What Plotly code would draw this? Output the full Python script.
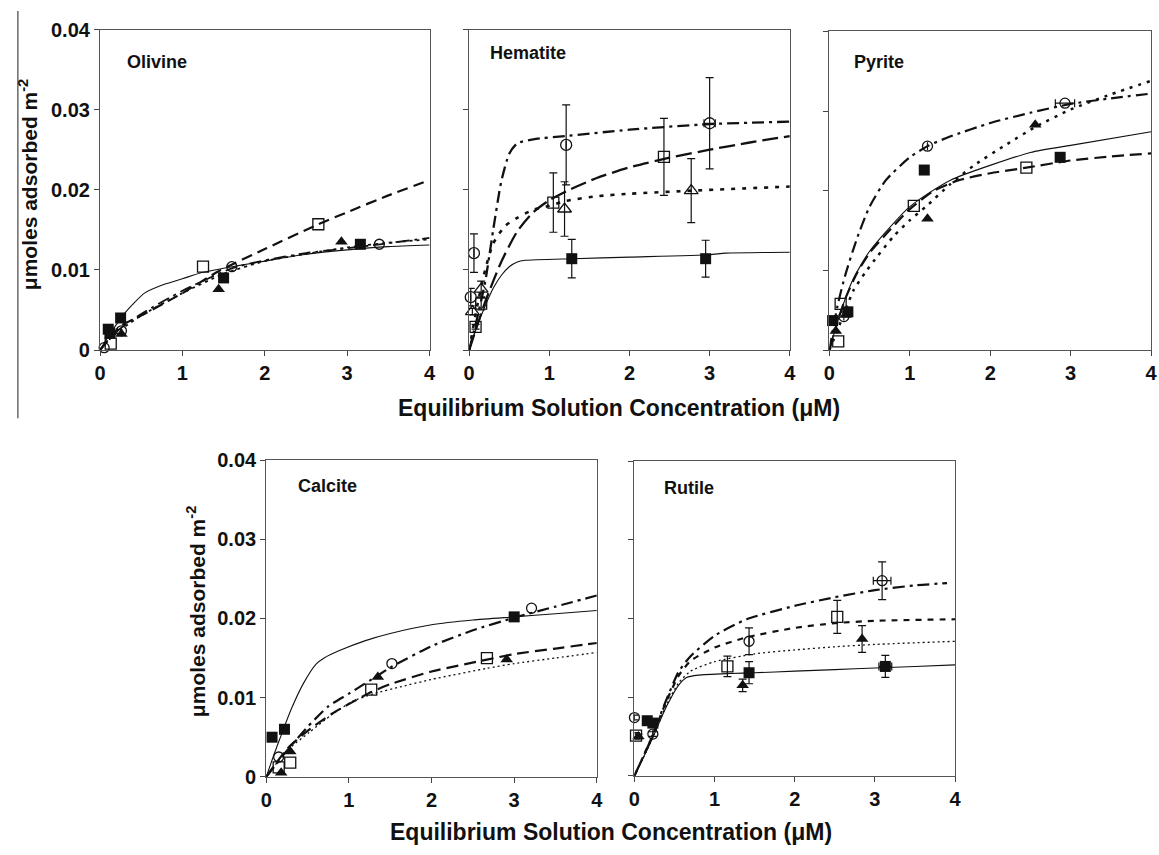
import plotly.graph_objects as go

W, H = 1159, 855
FONT = "Liberation Sans, Arial, sans-serif"

# ---------------- DATA ----------------
X_TICKS = [0, 1, 2, 3, 4]
Y_TICKS = [0, 0.01, 0.02, 0.03, 0.04]
Y_TICK_TEXT = ["0", "0.01", "0.02", "0.03", "0.04"]
PANEL_NAMES = ["Olivine", "Hematite", "Pyrite", "Calcite", "Rutile"]
X_TITLE = "Equilibrium Solution Concentration (μM)"
Y_TITLE = "μmoles adsorbed m<sup>-2</sup>"

# Olivine
olv_fsq_x = [0.10, 0.12, 0.25, 1.50, 3.16]
olv_fsq_y = [0.0026, 0.0021, 0.0040, 0.0090, 0.0132]
olv_osq_x = [0.13, 1.25, 2.65]
olv_osq_y = [0.0008, 0.0104, 0.0157]
olv_ftri_x = [0.26, 1.44, 2.93]
olv_ftri_y = [0.0020, 0.0076, 0.0135]
olv_ocir_x = [0.05, 0.26, 1.60, 3.39]
olv_ocir_y = [0.0003, 0.0024, 0.0104, 0.0132]
olv_solid_x = [0, 0.1, 0.2, 0.3, 0.54, 0.78, 1.0, 1.25, 1.66, 2.0, 2.46, 3.0, 3.5, 4.0]
olv_solid_y = [0, 0.0017, 0.0032, 0.0046, 0.0071, 0.0082, 0.0089, 0.0097, 0.0105, 0.0111, 0.0119, 0.0125, 0.0129, 0.0131]
olv_dash_x = [0, 0.1, 0.25, 0.5, 1.0, 1.45, 2.0, 2.65, 3.0, 3.5, 4.0]
olv_dash_y = [0, 0.0012, 0.0030, 0.0043, 0.0071, 0.0099, 0.0126, 0.0157, 0.0172, 0.0193, 0.0212]
olv_dashdot_x = [0, 0.1, 0.26, 0.5, 1.0, 1.6, 2.0, 2.5, 3.0, 3.4, 4.0]
olv_dashdot_y = [0, 0.0013, 0.0028, 0.0045, 0.0074, 0.0102, 0.0112, 0.0121, 0.0127, 0.0132, 0.0140]
olv_dot_x = [0, 0.1, 0.26, 0.5, 1.0, 1.5, 2.0, 2.5, 3.0, 3.5, 4.0]
olv_dot_y = [0, 0.0012, 0.0026, 0.0043, 0.0071, 0.0095, 0.0111, 0.0120, 0.0128, 0.0134, 0.0138]

# Hematite
hem_fsq_x = [1.28, 2.95]
hem_fsq_y = [0.0114, 0.0114]
hem_fsq_err = [0.0024, 0.0023]
hem_osq_x = [0.08, 0.15, 1.05, 2.43]
hem_osq_y = [0.0029, 0.0058, 0.0184, 0.0241]
hem_osq_err = [0.0003, 0.0008, 0.0037, 0.0048]
hem_otri_x = [0.04, 0.15, 1.19, 2.77]
hem_otri_y = [0.0048, 0.0076, 0.0176, 0.0199]
hem_otri_err = [0.0004, 0.0010, 0.0034, 0.0040]
hem_ocir_x = [0.02, 0.06, 1.21, 3.00]
hem_ocir_y = [0.0066, 0.0121, 0.0256, 0.0283]
hem_ocir_err = [0.0011, 0.0024, 0.0050, 0.0057]
hem_ocir_xerr = [0, 0, 0, 0.07]
hem_solid_x = [0, 0.1, 0.2, 0.3, 0.4, 0.5, 0.6, 0.7, 1.3, 2.0, 3.0, 3.2, 4.0]
hem_solid_y = [0, 0.0030, 0.0055, 0.0077, 0.0093, 0.0104, 0.0110, 0.0112, 0.0114, 0.0116, 0.0119, 0.0121, 0.0122]
hem_dash_x = [0, 0.2, 0.4, 0.6, 0.8, 1.0, 1.25, 1.6, 2.0, 2.5, 3.0, 3.5, 4.0]
hem_dash_y = [0, 0.0060, 0.0110, 0.0148, 0.0172, 0.0187, 0.0200, 0.0215, 0.0228, 0.0240, 0.0250, 0.0259, 0.0267]
hem_dashdot_x = [0, 0.1, 0.2, 0.3, 0.4, 0.5, 0.6, 0.8, 1.2, 2.0, 3.0, 4.0]
hem_dashdot_y = [0, 0.0040, 0.0085, 0.0150, 0.0210, 0.0245, 0.0258, 0.0263, 0.0267, 0.0275, 0.0282, 0.0285]
hem_dot_x = [0, 0.1, 0.2, 0.3, 0.45, 0.6, 0.8, 1.0, 1.2, 1.6, 2.0, 2.8, 4.0]
hem_dot_y = [0, 0.0055, 0.0100, 0.0133, 0.0155, 0.0165, 0.0175, 0.0180, 0.0186, 0.0192, 0.0195, 0.0199, 0.0204]

# Pyrite
pyr_fsq_x = [0.04, 0.23, 1.18, 2.87]
pyr_fsq_y = [0.0037, 0.0048, 0.0226, 0.0242]
pyr_osq_x = [0.11, 0.14, 1.05, 2.45]
pyr_osq_y = [0.0011, 0.0058, 0.0181, 0.0229]
pyr_ftri_x = [0.08, 0.20, 1.22, 2.56]
pyr_ftri_y = [0.0024, 0.0044, 0.0165, 0.0283]
pyr_ocir_x = [0.18, 1.22, 2.93]
pyr_ocir_y = [0.0042, 0.0256, 0.0310]
pyr_ocir_xerr = [0, 0, 0.12]
pyr_solid_x = [0, 0.1, 0.2, 0.3, 0.5, 1.0, 1.5, 2.5, 3.0, 4.0]
pyr_solid_y = [0, 0.0035, 0.0065, 0.0090, 0.0124, 0.0180, 0.0213, 0.0248, 0.0257, 0.0274]
pyr_dash_x = [0, 0.1, 0.2, 0.35, 0.5, 0.7, 1.0, 1.3, 1.6, 2.0, 2.45, 3.0, 3.5, 4.0]
pyr_dash_y = [0, 0.0035, 0.0065, 0.0098, 0.0122, 0.0145, 0.0177, 0.0200, 0.0213, 0.0222, 0.0229, 0.0238, 0.0243, 0.0247]
pyr_dashdot_x = [0, 0.1, 0.2, 0.35, 0.5, 0.7, 1.0, 1.22, 1.5, 2.0, 2.5, 3.0, 3.5, 4.0]
pyr_dashdot_y = [0, 0.0055, 0.0095, 0.0142, 0.0180, 0.0213, 0.0242, 0.0256, 0.0268, 0.0285, 0.0298, 0.0309, 0.0316, 0.0322]
pyr_dot_x = [0, 0.1, 0.2, 0.3, 0.45, 0.6, 0.8, 1.0, 1.2, 1.5, 1.8, 2.2, 2.56, 3.0, 3.5, 4.0]
pyr_dot_y = [0, 0.0025, 0.0050, 0.0075, 0.0098, 0.0118, 0.0143, 0.0163, 0.0180, 0.0208, 0.0232, 0.0258, 0.0280, 0.0302, 0.0321, 0.0338]

# Calcite
cal_fsq_x = [0.07, 0.22, 3.00]
cal_fsq_y = [0.0050, 0.0060, 0.0202]
cal_osq_x = [0.15, 0.29, 1.27, 2.67]
cal_osq_y = [0.0012, 0.0018, 0.0110, 0.0150]
cal_ftri_x = [0.18, 0.29, 1.35, 2.91]
cal_ftri_y = [0.0005, 0.0032, 0.0126, 0.0148]
cal_ocir_x = [0.15, 1.52, 3.21]
cal_ocir_y = [0.0025, 0.0143, 0.0213]
cal_solid_x = [0, 0.1, 0.2, 0.3, 0.45, 0.6, 0.7, 0.9, 1.2, 1.5, 2.0, 2.5, 3.0, 3.5, 4.0]
cal_solid_y = [0, 0.0030, 0.0058, 0.0085, 0.0118, 0.0142, 0.0150, 0.0160, 0.0172, 0.0181, 0.0192, 0.0198, 0.0202, 0.0206, 0.0210]
cal_dashdot_x = [0, 0.1, 0.25, 0.5, 0.75, 1.0, 1.35, 1.5, 2.0, 2.5, 3.0, 3.5, 4.0]
cal_dashdot_y = [0, 0.0013, 0.0033, 0.0063, 0.0089, 0.0105, 0.0128, 0.0138, 0.0165, 0.0185, 0.0201, 0.0215, 0.0229]
cal_dash_x = [0, 0.25, 0.5, 0.8, 1.27, 1.5, 2.0, 2.67, 3.0, 3.5, 4.0]
cal_dash_y = [0, 0.0035, 0.0058, 0.0080, 0.0107, 0.0117, 0.0133, 0.0148, 0.0155, 0.0162, 0.0169]
cal_dot_x = [0, 0.25, 0.52, 0.8, 1.04, 1.3, 1.64, 2.0, 2.67, 3.0, 3.5, 4.0]
cal_dot_y = [0, 0.0033, 0.0056, 0.0079, 0.0095, 0.0105, 0.0114, 0.0123, 0.0137, 0.0143, 0.0150, 0.0157]

# Rutile
rut_fsq_x = [0.16, 0.23, 1.43, 3.13]
rut_fsq_y = [0.0070, 0.0067, 0.0131, 0.0139]
rut_fsq_err = [0.0004, 0.0004, 0.0014, 0.0014]
rut_fsq_xerr = [0, 0, 0, 0.08]
rut_osq_x = [0.02, 1.16, 2.53]
rut_osq_y = [0.0051, 0.0139, 0.0202]
rut_osq_err = [0.0004, 0.0013, 0.0021]
rut_ftri_x = [0.05, 1.35, 2.84]
rut_ftri_y = [0.0050, 0.0115, 0.0174]
rut_ftri_err = [0.0003, 0.0008, 0.0017]
rut_ocir_x = [0.00, 0.23, 1.43, 3.09]
rut_ocir_y = [0.0074, 0.0053, 0.0171, 0.0248]
rut_ocir_err = [0.0003, 0.0003, 0.0017, 0.0024]
rut_ocir_xerr = [0, 0, 0, 0.11]
rut_solid_x = [0, 0.2, 0.4, 0.55, 0.65, 0.8, 1.2, 1.5, 2.0, 2.5, 3.0, 3.5, 4.0]
rut_solid_y = [0, 0.0042, 0.0088, 0.0115, 0.0125, 0.0128, 0.0130, 0.0131, 0.0133, 0.0135, 0.0137, 0.0139, 0.0141]
rut_dot_x = [0, 0.2, 0.4, 0.55, 0.7, 1.0, 1.5, 2.0, 2.5, 3.0, 4.0]
rut_dot_y = [0, 0.0042, 0.0090, 0.0118, 0.0133, 0.0145, 0.0155, 0.0160, 0.0164, 0.0167, 0.0171]
rut_dash_x = [0, 0.2, 0.4, 0.55, 0.7, 1.0, 1.4, 2.0, 2.5, 3.0, 4.0]
rut_dash_y = [0, 0.0045, 0.0095, 0.0127, 0.0146, 0.0163, 0.0176, 0.0188, 0.0194, 0.0197, 0.0199]
rut_dashdot_x = [0, 0.2, 0.4, 0.55, 0.7, 1.0, 1.4, 2.0, 2.5, 3.0, 3.5, 3.9]
rut_dashdot_y = [0, 0.0045, 0.0097, 0.0132, 0.0152, 0.0178, 0.0199, 0.0216, 0.0227, 0.0236, 0.0242, 0.0245]

# ---------------- LAYOUT (pixel boxes) ----------------
def px(x):
    return x / W

def py(y):
    return 1 - y / H

BOXES = {  # left, right, top, bottom in pixels
    1: (95, 428, 19, 348),
    2: (468, 792, 19, 348),
    3: (832, 1157, 21, 348),
    4: (263, 597, 461, 786),
    5: (635, 959, 462, 785),
}

INK = "#111111"
fig = go.Figure()

def ax_names(i):
    return ("x" if i == 1 else f"x{i}"), ("y" if i == 1 else f"y{i}")

def curve(i, xs, ys, dash, width):
    xa, ya = ax_names(i)
    fig.add_trace(go.Scatter(x=xs, y=ys, mode="lines", xaxis=xa, yaxis=ya,
                             line=dict(color=INK, width=width, dash=dash, shape="spline", smoothing=0.6),
                             showlegend=False, hoverinfo="skip"))

def pts(i, xs, ys, symbol, size=11, err=None, xerr=None):
    xa, ya = ax_names(i)
    kw = {}
    if err is not None:
        kw["error_y"] = dict(type="data", array=err, visible=True, color=INK, thickness=1.2, width=4)
    if xerr is not None:
        kw["error_x"] = dict(type="data", array=xerr, visible=True, color=INK, thickness=1.2, width=4)
    filled = not symbol.endswith("-open")
    fig.add_trace(go.Scatter(x=xs, y=ys, mode="markers", xaxis=xa, yaxis=ya, cliponaxis=False,
                             marker=dict(symbol=symbol, size=size, color=INK,
                                         line=dict(color=INK, width=0 if filled else 1.3)),
                             showlegend=False, **kw))

SOLID = "solid"
DASHDOT = "12px,5px,3px,5px"
DOTS = "3px,4px"
FINEDOT = "2px,3px"

# Olivine
curve(1, olv_solid_x, olv_solid_y, SOLID, 1.1)
curve(1, olv_dash_x, olv_dash_y, "11px,6px", 2.2)
curve(1, olv_dashdot_x, olv_dashdot_y, DASHDOT, 1.8)
curve(1, olv_dot_x, olv_dot_y, DOTS, 1.8)
pts(1, olv_fsq_x, olv_fsq_y, "square", 11)
pts(1, olv_osq_x, olv_osq_y, "square-open", 11)
pts(1, olv_ftri_x, olv_ftri_y, "triangle-up", 11)
pts(1, olv_ocir_x, olv_ocir_y, "circle-open", 10)

# Hematite
curve(2, hem_solid_x, hem_solid_y, SOLID, 1.1)
curve(2, hem_dash_x, hem_dash_y, "16px,6px", 2.3)
curve(2, hem_dashdot_x, hem_dashdot_y, DASHDOT, 2.3)
curve(2, hem_dot_x, hem_dot_y, "4px,7px", 2.6)
pts(2, hem_fsq_x, hem_fsq_y, "square", 11, hem_fsq_err)
pts(2, hem_osq_x, hem_osq_y, "square-open", 11, hem_osq_err)
pts(2, hem_otri_x, hem_otri_y, "triangle-up-open", 12, hem_otri_err)
pts(2, hem_ocir_x, hem_ocir_y, "circle-open", 11, hem_ocir_err, hem_ocir_xerr)

# Pyrite
curve(3, pyr_solid_x, pyr_solid_y, SOLID, 1.1)
curve(3, pyr_dash_x, pyr_dash_y, "12px,6px", 2.2)
curve(3, pyr_dashdot_x, pyr_dashdot_y, DASHDOT, 2.2)
curve(3, pyr_dot_x, pyr_dot_y, "3px,6px", 2.5)
pts(3, pyr_fsq_x, pyr_fsq_y, "square", 11)
pts(3, pyr_osq_x, pyr_osq_y, "square-open", 11)
pts(3, pyr_ftri_x, pyr_ftri_y, "triangle-up", 11)
pts(3, pyr_ocir_x, pyr_ocir_y, "circle-open", 10, None, pyr_ocir_xerr)

# Calcite
curve(4, cal_solid_x, cal_solid_y, SOLID, 1.1)
curve(4, cal_dashdot_x, cal_dashdot_y, DASHDOT, 2.2)
curve(4, cal_dash_x, cal_dash_y, "12px,6px", 2.2)
curve(4, cal_dot_x, cal_dot_y, FINEDOT, 1.3)
pts(4, cal_fsq_x, cal_fsq_y, "square", 11)
pts(4, cal_osq_x, cal_osq_y, "square-open", 11)
pts(4, cal_ftri_x, cal_ftri_y, "triangle-up", 11)
pts(4, cal_ocir_x, cal_ocir_y, "circle-open", 10)

# Rutile
curve(5, rut_solid_x, rut_solid_y, SOLID, 1.1)
curve(5, rut_dot_x, rut_dot_y, FINEDOT, 1.3)
curve(5, rut_dash_x, rut_dash_y, "6px,6px", 2.2)
curve(5, rut_dashdot_x, rut_dashdot_y, DASHDOT, 2.2)
pts(5, rut_fsq_x, rut_fsq_y, "square", 11, rut_fsq_err, rut_fsq_xerr)
pts(5, rut_osq_x, rut_osq_y, "square-open", 11, rut_osq_err)
pts(5, rut_ftri_x, rut_ftri_y, "triangle-up", 11, rut_ftri_err)
pts(5, rut_ocir_x, rut_ocir_y, "circle-open", 10, rut_ocir_err, rut_ocir_xerr)

layout = dict(
    width=W, height=H, margin=dict(l=0, r=0, t=0, b=0),
    paper_bgcolor="white", plot_bgcolor="white",
    font=dict(family=FONT, color=INK),
    showlegend=False,
)
tickfont = dict(family=FONT, size=20, color=INK, weight="bold")
for i, (l, r, t, b) in BOXES.items():
    xa, ya = ax_names(i)
    xkey = "xaxis" if i == 1 else f"xaxis{i}"
    ykey = "yaxis" if i == 1 else f"yaxis{i}"
    layout[xkey] = dict(domain=[px(l), px(r)], anchor=ya, range=[0, 4], tickvals=X_TICKS,
                        ticktext=[str(v) for v in X_TICKS],
                        ticks="outside", ticklen=5, tickwidth=1, tickcolor="#444",
                        showline=True, linecolor="#555", linewidth=1.2, mirror=True,
                        showgrid=False, zeroline=False, tickfont=tickfont, fixedrange=True)
    layout[ykey] = dict(domain=[py(b), py(t)], anchor=xa, range=[0, 0.04], tickvals=Y_TICKS,
                        ticktext=Y_TICK_TEXT, showticklabels=(i in (1, 4)),
                        ticks="outside", ticklen=5, tickwidth=1, tickcolor="#444",
                        showline=True, linecolor="#555", linewidth=1.2, mirror=True,
                        showgrid=False, zeroline=False, tickfont=tickfont, fixedrange=True)

label_pos = [(120, 52), (487, 43), (855, 52), (293, 488), (663, 490)]
ann = []
for name, (lx, ly) in zip(PANEL_NAMES, label_pos):
    ann.append(dict(text=f"<b>{name}</b>", x=px(lx), y=py(ly), xref="paper", yref="paper",
                    xanchor="left", yanchor="middle", showarrow=False,
                    font=dict(family=FONT, size=18, color=INK)))
for (cx, cy) in [(619, 407), (611, 843)]:
    ann.append(dict(text=f"<b>{X_TITLE}</b>", x=px(cx), y=py(cy), xref="paper", yref="paper",
                    xanchor="center", yanchor="middle", showarrow=False,
                    font=dict(family=FONT, size=23, color=INK)))
for (cx, cy) in [(23, 178), (192, 617)]:
    ann.append(dict(text=f"<b>{Y_TITLE}</b>", x=px(cx), y=py(cy), xref="paper", yref="paper",
                    xanchor="center", yanchor="middle", textangle=-90, showarrow=False,
                    font=dict(family=FONT, size=21, color=INK)))
layout["annotations"] = ann
layout["shapes"] = [dict(type="line", xref="paper", yref="paper", x0=px(12), x1=px(12),
                         y0=py(0), y1=py(418), line=dict(color="#444", width=1.2))]

fig.update_layout(**layout)
fig.write_html("out.html")
